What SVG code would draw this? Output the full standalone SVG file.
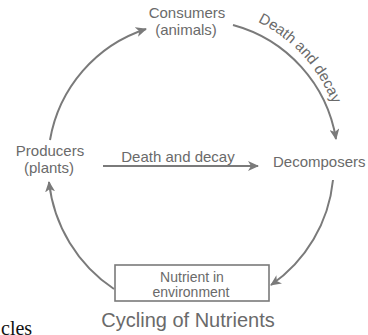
<svg xmlns="http://www.w3.org/2000/svg" width="368" height="335" viewBox="0 0 368 335">
<defs>
<style>
.t{font-family:"Liberation Sans",Arial,sans-serif;font-size:15px;fill:#6a6a6a;text-anchor:middle}
.c{fill:none;stroke:#7a7a7a;stroke-width:2}
.b{fill:#fff;stroke:#7a7a7a;stroke-width:1.6}
</style>
<marker id="ah" markerWidth="12" markerHeight="10" refX="10" refY="5" orient="auto" markerUnits="userSpaceOnUse">
<path d="M0,0 L11,5 L0,10 L3,5 Z" fill="#7a7a7a"/>
</marker>
<path id="arcText" d="M254.2,20.2 A150,150 0 0 1 342,158"/>
</defs>
<rect width="368" height="335" fill="#fff"/>
<g id="connectors">
<path class="c" d="M50,140 A142,142 0 0 1 146,29" marker-end="url(#ah)"/>
<path class="c" d="M233,25 A142,142 0 0 1 336,139" marker-end="url(#ah)"/>
<path class="c" d="M333,180 A145,145 0 0 1 271,285" marker-end="url(#ah)"/>
<path class="c" d="M114,289 A148,148 0 0 1 49,182" marker-end="url(#ah)"/>
<path class="c" d="M103,166 L258,166" marker-end="url(#ah)"/>
<text class="t" x="178" y="162">Death and decay</text>
<text class="t" style="text-anchor:start"><textPath href="#arcText" startOffset="4">Death and decay</textPath></text>
</g>
<g id="consumers">
<text class="t" x="187" y="18">Consumers</text>
<text class="t" x="186" y="35">(animals)</text>
</g>
<g id="producers">
<text class="t" x="50" y="156">Producers</text>
<text class="t" x="49" y="173">(plants)</text>
</g>
<g id="decomposers">
<text class="t" x="273" y="167" style="text-anchor:start">Decomposers</text>
</g>
<g id="nutrient">
<rect class="b" x="115" y="265" width="154" height="36"/>
<text class="t" x="192" y="282" style="font-size:14px">Nutrient in</text>
<text class="t" x="191" y="297" style="font-size:14px">environment</text>
</g>
<text class="t" x="188" y="327" style="font-size:20px">Cycling of Nutrients</text>
<text x="1" y="335" style="font-family:'Liberation Serif','Times New Roman',serif;font-size:20px;fill:#111">cles</text>
</svg>
